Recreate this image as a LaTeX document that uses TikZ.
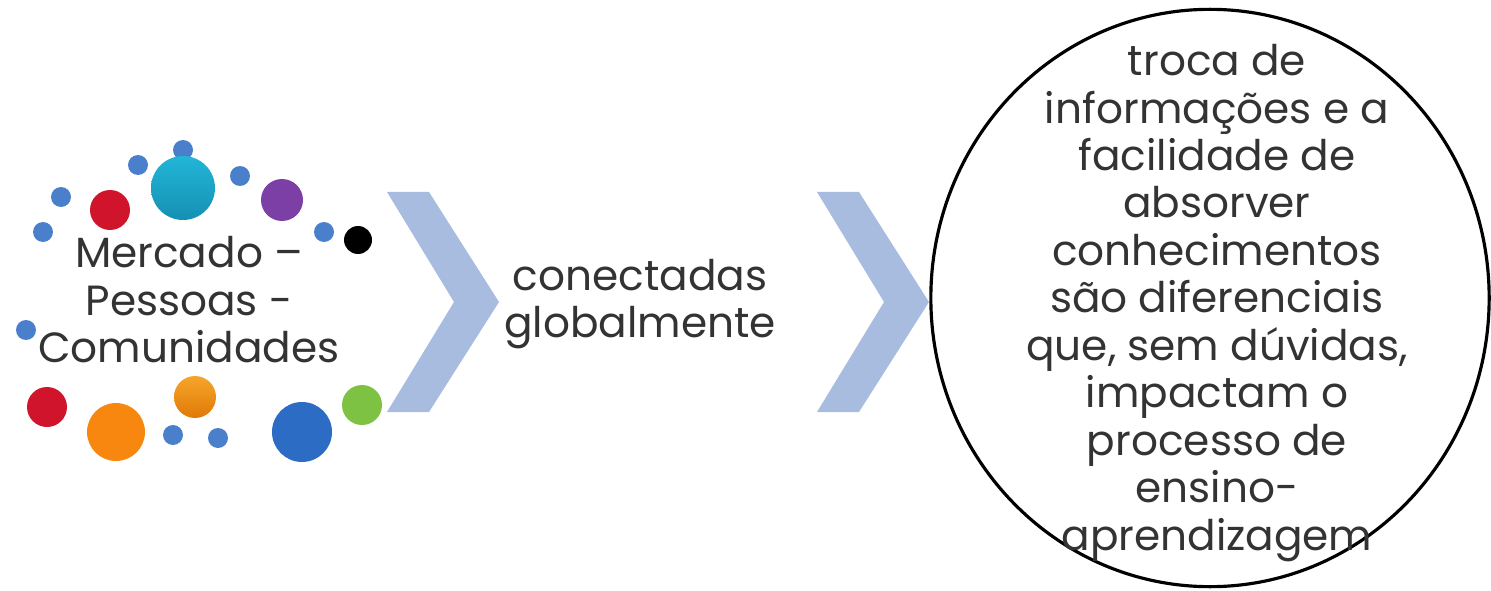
\documentclass[tikz,border=0pt]{standalone}
\usepackage{fontspec}
\setmainfont{Poppins}
\usetikzlibrary{shapes.geometric}

\definecolor{textgray}{HTML}{333333}
\definecolor{chevblue}{HTML}{A8BCE0}
\definecolor{dotblue}{HTML}{4A7FCB}
\definecolor{ballred}{HTML}{D0142C}
\definecolor{ballcyan}{HTML}{22B6D6}
\definecolor{ballcyandark}{HTML}{1590B4}
\definecolor{ballpurple}{HTML}{7B3FA6}
\definecolor{ballorange}{HTML}{F7870F}
\definecolor{ballamber}{HTML}{F6A52A}
\definecolor{ballamberdark}{HTML}{E07A06}
\definecolor{ballblue}{HTML}{2D6CC4}
\definecolor{ballgreen}{HTML}{7DC243}

\begin{document}
\begin{tikzpicture}[x=0.01cm, y=-0.01cm,
    words/.style={align=center, text=textgray, inner sep=0pt, font=\fontsize{12}{13.5}\selectfont},
    chevron/.style={fill=chevblue},
    bubble/.style={ellipse, draw=black, line width=0.9pt, minimum width=5.58cm, minimum height=5.77cm, inner sep=0pt}
]
    \useasboundingbox (0,0) rectangle (1491,591);

    % Chevrons
    \foreach \cx in {387, 817}
        \fill[chevron] (\cx,192) -- ++(42,0) -- ++(70,110) -- ++(-70,110) -- ++(-42,0) -- ++(67,-110) -- cycle;

    % Dots round the first label
    \foreach \px/\py/\r/\c in {61/197/10/dotblue, 43/232/10/dotblue, 138/165/10/dotblue, 183/150/10/dotblue,
        240/176/10/dotblue, 324/232/10/dotblue, 26/330/10/dotblue, 173/435/10/dotblue, 218/438/10/dotblue,
        110/210/20/ballred, 282/200/21/ballpurple, 358/240/14/black,
        47/407/20/ballred, 116/432/29/ballorange, 302/432/30/ballblue, 362/405/20/ballgreen}
        \fill[\c] (\px,\py) circle[radius=\r];
    \shade[top color=ballcyan, bottom color=ballcyandark] (183,188) circle[radius=32];
    \shade[top color=ballamber, bottom color=ballamberdark] (195,397) circle[radius=21];

    % Labels
    \node[words] (market) at (189,300) {Mercado –\\Pessoas -\\Comunidades};
    \node[words] (global) at (640,304) {conectadas\\globalmente};

    % Circle on the right
    \node[bubble] (learn) at (1210,298) {};
    \node[words] (learntext) at (1217,303) {troca de\\informações e a\\facilidade de\\absorver\\conhecimentos\\são diferenciais\\que, sem dúvidas,\\impactam o\\processo de\\ensino-\\aprendizagem};
\end{tikzpicture}
\end{document}
